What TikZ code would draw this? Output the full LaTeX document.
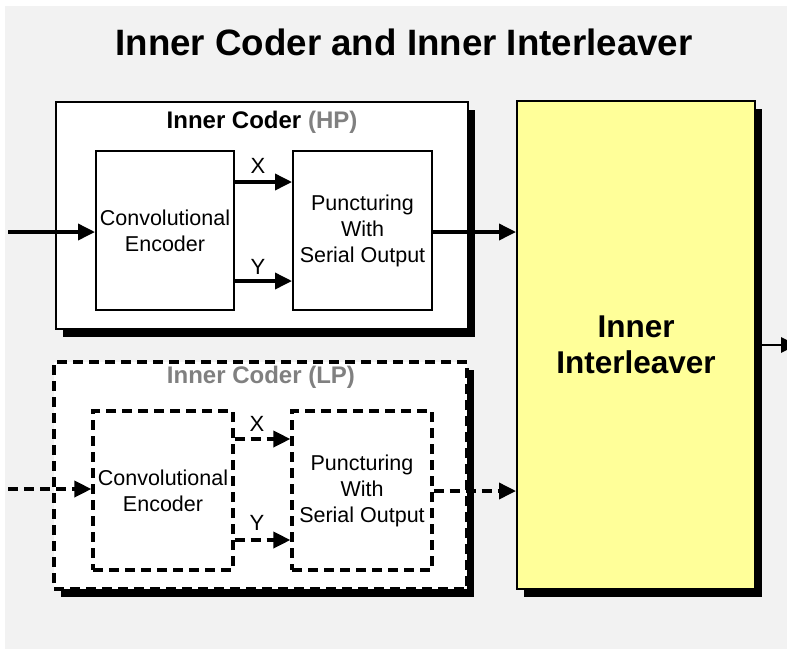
\documentclass[tikz,border=0pt]{standalone}
\usepackage{fontspec}
\setmainfont{Liberation Sans}
\usetikzlibrary{arrows.meta,shadows}
\definecolor{bggray}{HTML}{F2F2F2}
\definecolor{labgray}{HTML}{808080}
\definecolor{ilyellow}{HTML}{FFFF99}
\tikzset{
  shad/.style={drop shadow={shadow xshift=7pt,shadow yshift=-8pt,fill=black,opacity=1}},
  outerbox/.style={draw=black,fill=white,line width=2pt,shad},
  outerdash/.style={draw=black,fill=white,line width=3.2pt,dash pattern=on 10pt off 6pt,shad},
  blockbox/.style={draw=black,fill=white,line width=2pt,inner sep=0pt,align=center,
    font=\fontsize{21.5}{26}\selectfont},
  blockdash/.style={blockbox,line width=3.2pt,dash pattern=on 10pt off 6pt},
  arr/.style={line width=3.6pt,-{Triangle[length=17pt,width=16pt]}},
  darr/.style={arr,dash pattern=on 10pt off 6pt},
  lab/.style={font=\fontsize{22}{26}\selectfont,inner sep=0pt},
  ttl/.style={font=\bfseries\fontsize{24}{28}\selectfont,inner sep=0pt},
}
\begin{document}
\begin{tikzpicture}[x=1pt,y=-1pt]
\clip (0,0) rectangle (787,649);
\fill[white] (0,0) rectangle (787,649);
\fill[bggray] (5,6) rectangle (787,649);

\node[font=\bfseries\fontsize{36.7}{44}\selectfont,inner sep=0pt] (title) at (404,42) {Inner Coder and Inner Interleaver};

% HP
\node[outerbox,minimum width=412pt,minimum height=227pt,inner sep=0pt] (hp) at (262,215.5) {};
\node[ttl] (hpt) at (262,122) {Inner Coder \textcolor{labgray}{(HP)}};
\node[blockbox,minimum width=138pt,minimum height=159pt] (hpconv) at (165,230.5) {Convolutional\\Encoder};
\node[blockbox,minimum width=139pt,minimum height=159pt] (hppunct) at (362.5,230.5) {Puncturing\\With\\Serial Output};

% LP
\node[outerdash,minimum width=413pt,minimum height=227pt,inner sep=0pt] (lp) at (260.5,475.5) {};
\node[ttl,text=labgray] (lpt) at (261,377) {Inner Coder (LP)};
\node[blockdash,minimum width=140pt,minimum height=159pt] (lpconv) at (163,490.5) {Convolutional\\Encoder};
\node[blockdash,minimum width=140pt,minimum height=159pt] (lppunct) at (362,490.5) {Puncturing\\With\\Serial Output};

% Interleaver
\node[draw=black,fill=ilyellow,line width=2pt,shad,minimum width=238pt,minimum height=488pt,inner sep=0pt,
  align=center,font=\bfseries\fontsize{31.5}{36}\selectfont] (inter) at (636,345) {Inner\\Interleaver};

% coordinates
\coordinate (hpin) at (8,232);
\coordinate (lpin) at (8,489);
\coordinate (out) at (797,345);

% HP connectors
\draw[arr] (hpin) -- (hpin -| hpconv.west);
\draw[arr] (hpconv.east |- 0,182) -- (hppunct.west |- 0,182);
\draw[arr] (hpconv.east |- 0,281) -- (hppunct.west |- 0,281);
\draw[arr] (hppunct.east |- 0,232) -- (inter.west |- 0,232);
\node[lab] (hpx) at (258,166) {X};
\node[lab] (hpy) at (258,267) {Y};

% LP connectors
\draw[darr] (lpin) -- (lpin -| lpconv.west);
\draw[darr] (lpconv.east |- 0,439) -- (lppunct.west |- 0,439);
\draw[darr] (lpconv.east |- 0,540) -- (lppunct.west |- 0,540);
\draw[darr] (lppunct.east |- 0,491) -- (inter.west |- 0,491);
\node[lab] (lpx) at (257,424) {X};
\node[lab] (lpy) at (257,523) {Y};

% output
\draw[line width=2.8pt,-{Triangle[length=16pt,width=15pt]}] (inter.east) -- (out);
\end{tikzpicture}
\end{document}
